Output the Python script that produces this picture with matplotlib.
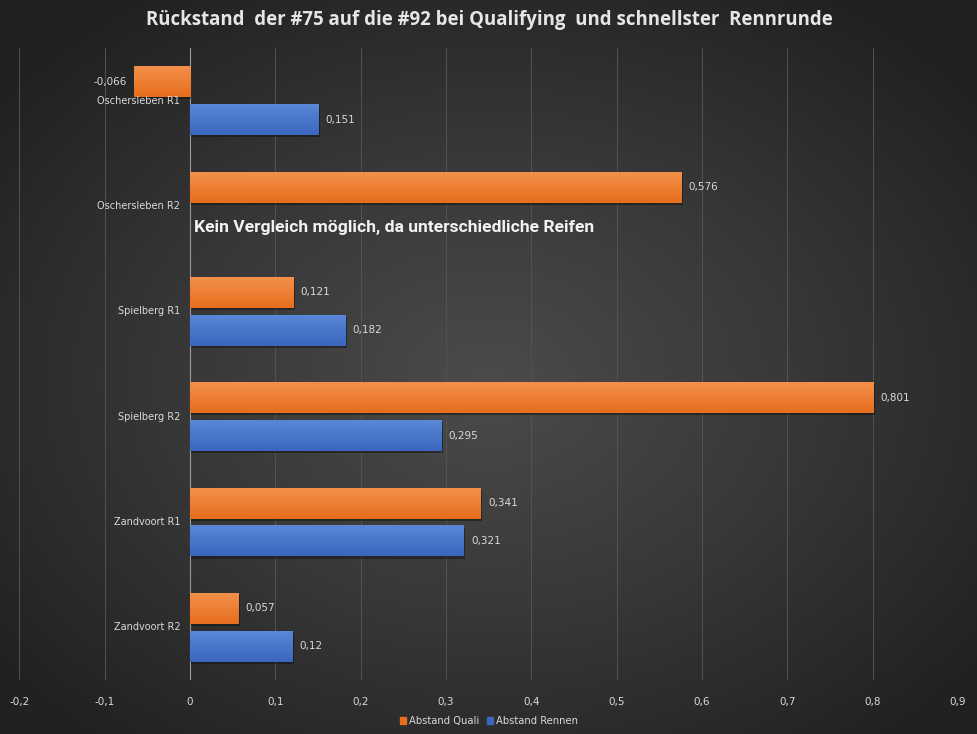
import numpy as np
import matplotlib
matplotlib.use("Agg")
import matplotlib.pyplot as plt
import matplotlib.patheffects as pe
from matplotlib.colors import LinearSegmentedColormap
from matplotlib.patches import Patch

categories = ["Oschersleben R1", "Oschersleben R2", "Spielberg R1",
              "Spielberg R2", "Zandvoort R1", "Zandvoort R2"]
quali = [-0.066, 0.576, 0.121, 0.801, 0.341, 0.057]
rennen = [0.151, np.nan, 0.182, 0.295, 0.321, 0.12]
series_names = ["Abstand Quali", "Abstand Rennen"]
xticks = [-0.2, -0.1, 0, 0.1, 0.2, 0.3, 0.4, 0.5, 0.6, 0.7, 0.8, 0.9]

W, H = 978, 734
fig = plt.figure(figsize=(W / 100, H / 100), dpi=100)

# radial gradient background
bg = fig.add_axes([0, 0, 1, 1], zorder=-10)
yy, xx = np.mgrid[0:H, 0:W]
r = np.sqrt(((xx - W * 0.5) / (W * 0.62)) ** 2 + ((yy - H * 0.52) / (H * 0.62)) ** 2)
r = np.clip(r, 0, 1)
cmap_bg = LinearSegmentedColormap.from_list("bg", ["#4b4b4b", "#383838", "#222222"])
bg.imshow(r, cmap=cmap_bg, aspect="auto", extent=[0, 1, 0, 1], origin="upper")
bg.axis("off")

ax = fig.add_axes([19.4 / W, 1 - 680 / H, (958 - 19.4) / W, (680 - 48) / H])
ax.set_facecolor("none")

y = np.arange(len(categories))
off = 0.18
h = 0.295

grads = {
    "q": ("#f4914c", "#e66e1c"),
    "r": ("#5c88d8", "#3a66be"),
}

shadow = [pe.SimplePatchShadow(offset=(1, -1.5), shadow_rgbFace="#111111", alpha=0.5), pe.Normal()]

def draw(vals, ypos, key):
    bars = ax.barh(ypos, vals, height=h, color=grads[key][1], zorder=3,
                   path_effects=shadow)
    cm = LinearSegmentedColormap.from_list(key, [grads[key][0], grads[key][1]])
    grad = np.linspace(0, 1, 64).reshape(-1, 1)
    for b in bars:
        if not np.isfinite(b.get_width()):
            continue
        x0, y0 = b.get_x(), b.get_y()
        x1, y1 = x0 + b.get_width(), y0 + b.get_height()
        im = ax.imshow(grad, cmap=cm, aspect="auto",
                       extent=[min(x0, x1), max(x0, x1), y1, y0],
                       origin="upper", zorder=4)
        im.set_clip_path(b)
    return bars

bq = draw(quali, y - off, "q")
br = draw(rennen, y + off, "r")
ax.set_xlim(-0.2, 0.9)
ax.set_ylim(len(categories) - 0.5, -0.5)

def fmt(v):
    return ("%g" % v).replace(".", ",")

for vals, ypos in ((quali, y - off), (rennen, y + off)):
    for v, yp in zip(vals, ypos):
        if not np.isfinite(v):
            continue
        if v >= 0:
            ax.annotate(fmt(v), (v, yp), xytext=(5, 0), textcoords="offset points",
                        ha="left", va="center", color="#d9d9d9", fontsize=7.5, zorder=6)
        else:
            ax.annotate(fmt(v), (v, yp), xytext=(-5, 0), textcoords="offset points",
                        ha="right", va="center", color="#d9d9d9", fontsize=7.5, zorder=6)

for i, c in enumerate(categories):
    ax.annotate(c, (0, i), xytext=(-7, 0), textcoords="offset points",
                ha="right", va="center", color="#d9d9d9", fontsize=7.0, zorder=6)

ax.annotate("Kein Vergleich möglich, da unterschiedliche Reifen", (0, 1.2),
            xytext=(3, 0), textcoords="offset points", ha="left", va="center",
            color="#f2f2f2", fontsize=12.6, fontweight="bold", family="Roboto", zorder=6)

ax.set_xticks(xticks)
ax.set_xticklabels([fmt(t) if t != 0 else "0" for t in xticks], color="#d9d9d9", fontsize=7.5)
ax.tick_params(axis="x", length=0, pad=12)
ax.set_yticks([])
ax.grid(axis="x", color="#535353", linewidth=0.7, zorder=0)
ax.axvline(0, color="#9a9a9a", linewidth=0.8, zorder=2)
for s in ax.spines.values():
    s.set_visible(False)

fig.text(0.5, 1 - 20 / H, "Rückstand  der #75 auf die #92 bei Qualifying  und schnellster  Rennrunde",
         ha="center", va="center", color="#e6e6e6", fontsize=13.4, fontweight="bold",
         family="Open Sans")

handles = [Patch(color=grads["q"][1]), Patch(color=grads["r"][1])]
leg = fig.legend(handles, series_names, loc="center", bbox_to_anchor=(0.5, 1 - 721 / H),
                 ncol=2, frameon=False, fontsize=7.2, handlelength=0.6, handleheight=0.6,
                 handletextpad=0.3, columnspacing=0.8)
for t in leg.get_texts():
    t.set_color("#d9d9d9")

fig.savefig("out.png", dpi=100, facecolor="#2a2a2a")
